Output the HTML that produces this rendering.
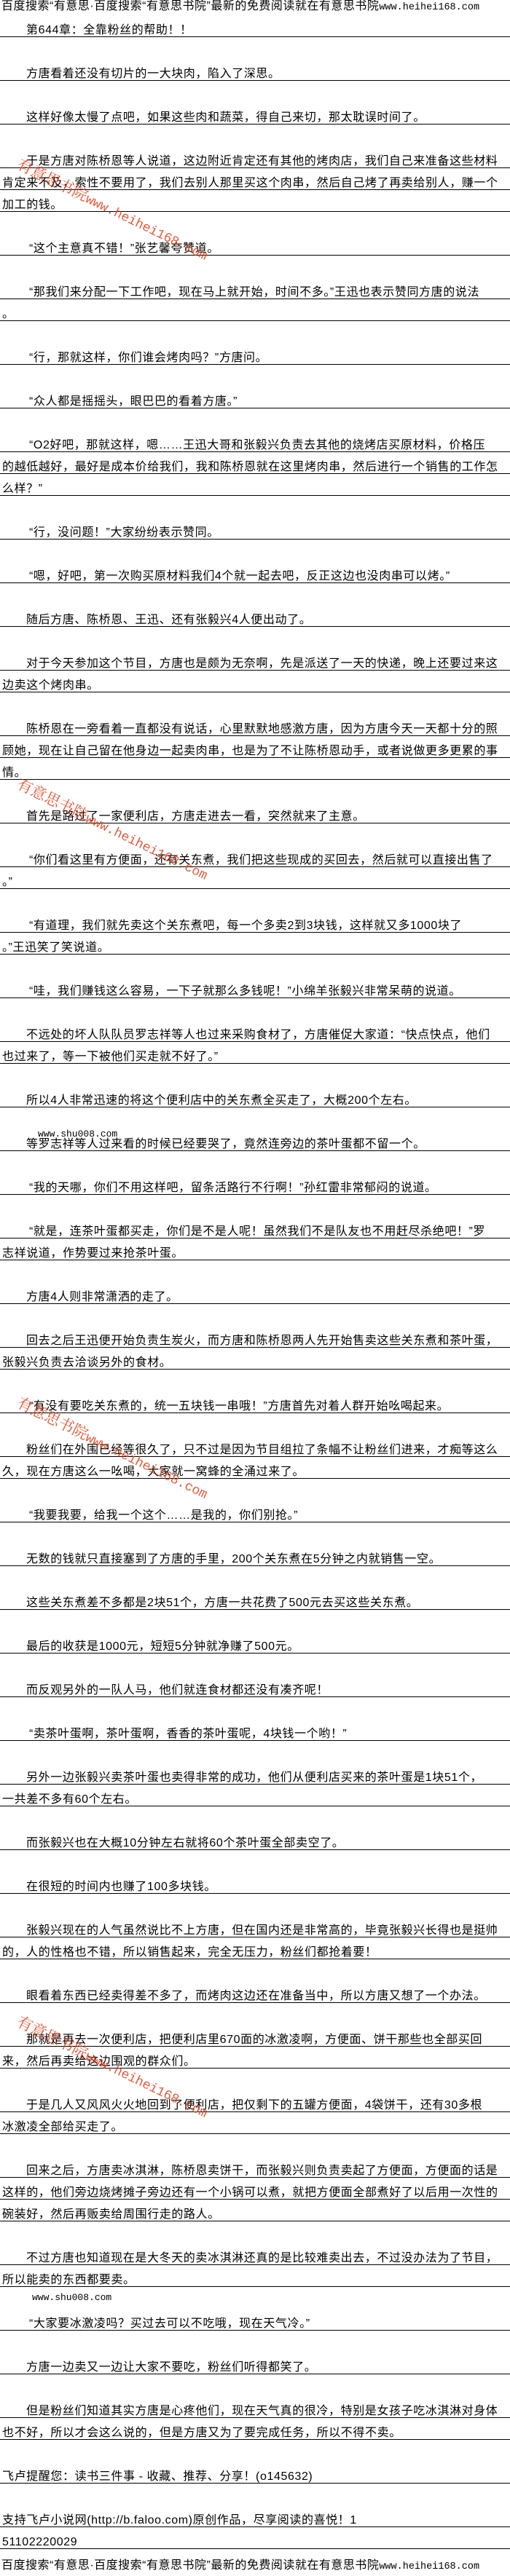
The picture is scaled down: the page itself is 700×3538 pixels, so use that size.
<!DOCTYPE html>
<html><head><meta charset="utf-8">
<style>
html,body{margin:0;padding:0;background:#fff;}
body{width:700px;height:3538px;position:relative;overflow:hidden;font-family:"Liberation Sans","Noto Sans CJK SC",sans-serif;color:#000;}
.l{position:absolute;left:0;width:700px;height:1px;background:#000;}
.t{position:absolute;white-space:nowrap;font-size:16px;line-height:16px;letter-spacing:0.6px;}
.hd{position:absolute;left:2px;white-space:nowrap;font-size:16px;line-height:18px;letter-spacing:0.5px;}
.m{font-family:"Liberation Mono",monospace;font-size:13.5px;letter-spacing:0;}
.wm{position:absolute;white-space:nowrap;color:#d8401c;font-family:"Liberation Serif","Noto Serif CJK SC",serif;font-size:21px;transform:rotate(26deg);transform-origin:0 0;opacity:0.85;}
.wm span{font-family:"Liberation Mono",monospace;font-size:18px;}
.s{position:absolute;font-family:"Liberation Mono",monospace;font-size:13px;white-space:nowrap;}
</style></head><body>
<div class="hd" style="top:0">百度搜索“有意思·百度搜索“有意思书院”最新的免费阅读就在有意思书院<span class="m">www.heihei168.com</span></div>

<div class="t" style="top:34px;left:36px">第644章：全靠粉丝的帮助！！</div><div class="l" style="top:50px"></div>
<div class="t" style="top:94px;left:36px">方唐看着还没有切片的一大块肉，陷入了深思。</div><div class="l" style="top:110px"></div>
<div class="t" style="top:154px;left:36px">这样好像太慢了点吧，如果这些肉和蔬菜，得自己来切，那太耽误时间了。</div><div class="l" style="top:170px"></div>
<div class="t" style="top:214px;left:36px">于是方唐对陈桥恩等人说道，这边附近肯定还有其他的烤肉店，我们自己来准备这些材料</div><div class="l" style="top:230px"></div>
<div class="t" style="top:244px;left:3px">肯定来不及，索性不要用了，我们去别人那里买这个肉串，然后自己烤了再卖给别人，赚一个</div><div class="l" style="top:260px"></div>
<div class="t" style="top:274px;left:3px">加工的钱。</div><div class="l" style="top:290px"></div>
<div class="t" style="top:334px;left:40px">“这个主意真不错！”张艺馨夸赞道。</div><div class="l" style="top:350px"></div>
<div class="t" style="top:394px;left:40px">“那我们来分配一下工作吧，现在马上就开始，时间不多。”王迅也表示赞同方唐的说法</div><div class="l" style="top:410px"></div>
<div class="t" style="top:424px;left:3px">。</div><div class="l" style="top:440px"></div>
<div class="t" style="top:484px;left:40px">“行，那就这样，你们谁会烤肉吗？”方唐问。</div><div class="l" style="top:500px"></div>
<div class="t" style="top:544px;left:40px">“众人都是摇摇头，眼巴巴的看着方唐。”</div><div class="l" style="top:560px"></div>
<div class="t" style="top:604px;left:40px">“O2好吧，那就这样，嗯……王迅大哥和张毅兴负责去其他的烧烤店买原材料，价格压</div><div class="l" style="top:620px"></div>
<div class="t" style="top:634px;left:3px">的越低越好，最好是成本价给我们，我和陈桥恩就在这里烤肉串，然后进行一个销售的工作怎</div><div class="l" style="top:650px"></div>
<div class="t" style="top:664px;left:3px">么样？”</div><div class="l" style="top:680px"></div>
<div class="t" style="top:724px;left:40px">“行，没问题！”大家纷纷表示赞同。</div><div class="l" style="top:740px"></div>
<div class="t" style="top:784px;left:40px">“嗯，好吧，第一次购买原材料我们4个就一起去吧，反正这边也没肉串可以烤。”</div><div class="l" style="top:800px"></div>
<div class="t" style="top:844px;left:36px">随后方唐、陈桥恩、王迅、还有张毅兴4人便出动了。</div><div class="l" style="top:860px"></div>
<div class="t" style="top:904px;left:36px">对于今天参加这个节目，方唐也是颇为无奈啊，先是派送了一天的快递，晚上还要过来这</div><div class="l" style="top:920px"></div>
<div class="t" style="top:934px;left:3px">边卖这个烤肉串。</div><div class="l" style="top:950px"></div>
<div class="t" style="top:994px;left:36px">陈桥恩在一旁看着一直都没有说话，心里默默地感激方唐，因为方唐今天一天都十分的照</div><div class="l" style="top:1010px"></div>
<div class="t" style="top:1024px;left:3px">顾她，现在让自己留在他身边一起卖肉串，也是为了不让陈桥恩动手，或者说做更多更累的事</div><div class="l" style="top:1040px"></div>
<div class="t" style="top:1054px;left:3px">情。</div><div class="l" style="top:1070px"></div>
<div class="t" style="top:1114px;left:36px">首先是路过了一家便利店，方唐走进去一看，突然就来了主意。</div><div class="l" style="top:1130px"></div>
<div class="t" style="top:1174px;left:40px">“你们看这里有方便面，还有关东煮，我们把这些现成的买回去，然后就可以直接出售了</div><div class="l" style="top:1190px"></div>
<div class="t" style="top:1204px;left:3px">。”</div><div class="l" style="top:1220px"></div>
<div class="t" style="top:1264px;left:40px">“有道理，我们就先卖这个关东煮吧，每一个多卖2到3块钱，这样就又多1000块了</div><div class="l" style="top:1280px"></div>
<div class="t" style="top:1294px;left:3px">。”王迅笑了笑说道。</div><div class="l" style="top:1310px"></div>
<div class="t" style="top:1354px;left:40px">“哇，我们赚钱这么容易，一下子就那么多钱呢！”小绵羊张毅兴非常呆萌的说道。</div><div class="l" style="top:1370px"></div>
<div class="t" style="top:1414px;left:36px">不远处的坏人队队员罗志祥等人也过来采购食材了，方唐催促大家道：“快点快点，他们</div><div class="l" style="top:1430px"></div>
<div class="t" style="top:1444px;left:3px">也过来了，等一下被他们买走就不好了。”</div><div class="l" style="top:1460px"></div>
<div class="t" style="top:1504px;left:36px">所以4人非常迅速的将这个便利店中的关东煮全买走了，大概200个左右。</div><div class="l" style="top:1520px"></div>
<div class="s" style="top:1550px;left:52px">www.shu008.com</div>
<div class="t" style="top:1564px;left:36px">等罗志祥等人过来看的时候已经要哭了，竟然连旁边的茶叶蛋都不留一个。</div><div class="l" style="top:1580px"></div>
<div class="t" style="top:1624px;left:40px">“我的天哪，你们不用这样吧，留条活路行不行啊！”孙红雷非常郁闷的说道。</div><div class="l" style="top:1640px"></div>
<div class="t" style="top:1684px;left:40px">“就是，连茶叶蛋都买走，你们是不是人呢！虽然我们不是队友也不用赶尽杀绝吧！”罗</div><div class="l" style="top:1700px"></div>
<div class="t" style="top:1714px;left:3px">志祥说道，作势要过来抢茶叶蛋。</div><div class="l" style="top:1730px"></div>
<div class="t" style="top:1774px;left:36px">方唐4人则非常潇洒的走了。</div><div class="l" style="top:1790px"></div>
<div class="t" style="top:1834px;left:36px">回去之后王迅便开始负责生炭火，而方唐和陈桥恩两人先开始售卖这些关东煮和茶叶蛋，</div><div class="l" style="top:1850px"></div>
<div class="t" style="top:1864px;left:3px">张毅兴负责去洽谈另外的食材。</div><div class="l" style="top:1880px"></div>
<div class="t" style="top:1924px;left:40px">“有没有要吃关东煮的，统一五块钱一串哦！”方唐首先对着人群开始吆喝起来。</div><div class="l" style="top:1940px"></div>
<div class="t" style="top:1984px;left:36px">粉丝们在外围已经等很久了，只不过是因为节目组拉了条幅不让粉丝们进来，才痴等这么</div><div class="l" style="top:2000px"></div>
<div class="t" style="top:2014px;left:3px">久，现在方唐这么一吆喝，大家就一窝蜂的全涌过来了。</div><div class="l" style="top:2030px"></div>
<div class="t" style="top:2074px;left:40px">“我要我要，给我一个这个……是我的，你们别抢。”</div><div class="l" style="top:2090px"></div>
<div class="t" style="top:2134px;left:36px">无数的钱就只直接塞到了方唐的手里，200个关东煮在5分钟之内就销售一空。</div><div class="l" style="top:2150px"></div>
<div class="t" style="top:2194px;left:36px">这些关东煮差不多都是2块51个，方唐一共花费了500元去买这些关东煮。</div><div class="l" style="top:2210px"></div>
<div class="t" style="top:2254px;left:36px">最后的收获是1000元，短短5分钟就净赚了500元。</div><div class="l" style="top:2270px"></div>
<div class="t" style="top:2314px;left:36px">而反观另外的一队人马，他们就连食材都还没有凑齐呢！</div><div class="l" style="top:2330px"></div>
<div class="t" style="top:2374px;left:40px">“卖茶叶蛋啊，茶叶蛋啊，香香的茶叶蛋呢，4块钱一个哟！”</div><div class="l" style="top:2390px"></div>
<div class="t" style="top:2434px;left:36px">另外一边张毅兴卖茶叶蛋也卖得非常的成功，他们从便利店买来的茶叶蛋是1块51个，</div><div class="l" style="top:2450px"></div>
<div class="t" style="top:2464px;left:3px">一共差不多有60个左右。</div><div class="l" style="top:2480px"></div>
<div class="t" style="top:2524px;left:36px">而张毅兴也在大概10分钟左右就将60个茶叶蛋全部卖空了。</div><div class="l" style="top:2540px"></div>
<div class="t" style="top:2584px;left:36px">在很短的时间内也赚了100多块钱。</div><div class="l" style="top:2600px"></div>
<div class="t" style="top:2644px;left:36px">张毅兴现在的人气虽然说比不上方唐，但在国内还是非常高的，毕竟张毅兴长得也是挺帅</div><div class="l" style="top:2660px"></div>
<div class="t" style="top:2674px;left:3px">的，人的性格也不错，所以销售起来，完全无压力，粉丝们都抢着要！</div><div class="l" style="top:2690px"></div>
<div class="t" style="top:2734px;left:36px">眼看着东西已经卖得差不多了，而烤肉这边还在准备当中，所以方唐又想了一个办法。</div><div class="l" style="top:2750px"></div>
<div class="t" style="top:2794px;left:36px">那就是再去一次便利店，把便利店里670面的冰激凌啊，方便面、饼干那些也全部买回</div><div class="l" style="top:2810px"></div>
<div class="t" style="top:2824px;left:3px">来，然后再卖给这边围观的群众们。</div><div class="l" style="top:2840px"></div>
<div class="t" style="top:2884px;left:36px">于是几人又风风火火地回到了便利店，把仅剩下的五罐方便面，4袋饼干，还有30多根</div><div class="l" style="top:2900px"></div>
<div class="t" style="top:2914px;left:3px">冰激凌全部给买走了。</div><div class="l" style="top:2930px"></div>
<div class="t" style="top:2974px;left:36px">回来之后，方唐卖冰淇淋，陈桥恩卖饼干，而张毅兴则负责卖起了方便面，方便面的话是</div><div class="l" style="top:2990px"></div>
<div class="t" style="top:3004px;left:3px">这样的，他们旁边烧烤摊子旁边还有一个小锅可以煮，就把方便面全部煮好了以后用一次性的</div><div class="l" style="top:3020px"></div>
<div class="t" style="top:3034px;left:3px">碗装好，然后再贩卖给周围行走的路人。</div><div class="l" style="top:3050px"></div>
<div class="t" style="top:3094px;left:36px">不过方唐也知道现在是大冬天的卖冰淇淋还真的是比较难卖出去，不过没办法为了节目，</div><div class="l" style="top:3110px"></div>
<div class="t" style="top:3124px;left:3px">所以能卖的东西都要卖。</div><div class="l" style="top:3140px"></div>
<div class="s" style="top:3148px;left:44px">www.shu008.com</div>
<div class="t" style="top:3184px;left:40px">“大家要冰激凌吗？买过去可以不吃哦，现在天气冷。”</div><div class="l" style="top:3200px"></div>
<div class="t" style="top:3244px;left:36px">方唐一边卖又一边让大家不要吃，粉丝们听得都笑了。</div><div class="l" style="top:3260px"></div>
<div class="t" style="top:3304px;left:36px">但是粉丝们知道其实方唐是心疼他们，现在天气真的很冷，特别是女孩子吃冰淇淋对身体</div><div class="l" style="top:3320px"></div>
<div class="t" style="top:3334px;left:3px">也不好，所以才会这么说的，但是方唐又为了要完成任务，所以不得不卖。</div><div class="l" style="top:3350px"></div>
<div class="t" style="top:3394px;left:3px">飞卢提醒您：读书三件事 - 收藏、推荐、分享！(o145632)</div><div class="l" style="top:3410px"></div>
<div class="t" style="top:3454px;left:3px">支持飞卢小说网(http://b.faloo.com)原创作品，尽享阅读的喜悦！1</div><div class="l" style="top:3470px"></div>
<div class="t" style="top:3484px;left:3px">51102220029</div><div class="l" style="top:3500px"></div>
<div class="hd" style="top:3515px">百度搜索“有意思·百度搜索“有意思书院”最新的免费阅读就在有意思书院<span class="m">www.heihei168.com</span></div>

<div class="wm" style="top:210px;left:32px">有意思书院<span>www.heihei168.com</span></div>
<div class="wm" style="top:1061px;left:32px">有意思书院<span>www.heihei168.com</span></div>
<div class="wm" style="top:1911px;left:32px">有意思书院<span>www.heihei168.com</span></div>
<div class="wm" style="top:2761px;left:32px">有意思书院<span>www.heihei168.com</span></div>
</body></html>
